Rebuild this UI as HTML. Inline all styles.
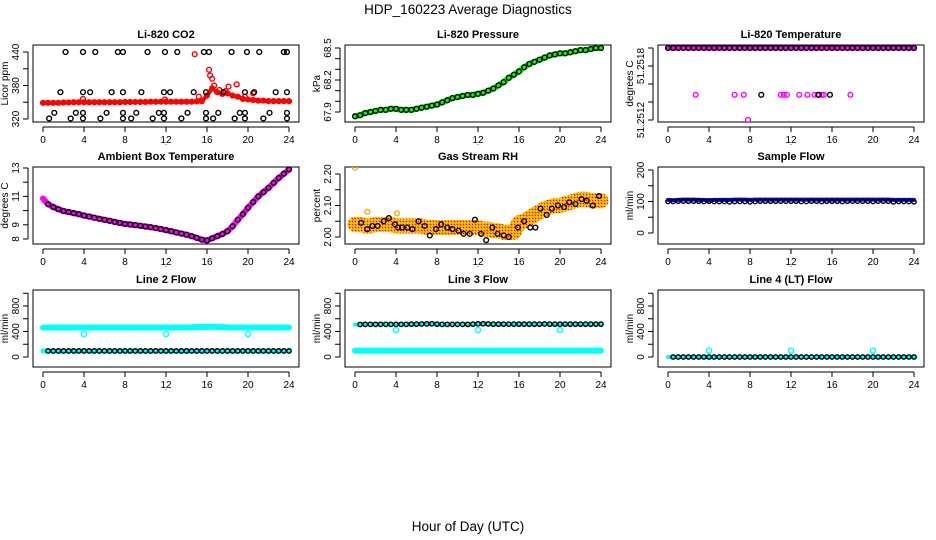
<!DOCTYPE html>
<html><head><meta charset="utf-8">
<style>
html,body{margin:0;padding:0;background:#fff;}
svg{display:block;font-family:"Liberation Sans",Arial,sans-serif;}
</style></head>
<body>
<svg id="chart" width="936" height="540" viewBox="0 0 936 540" xmlns="http://www.w3.org/2000/svg">
<defs>
<pattern id="rhpat" width="3" height="3" patternUnits="userSpaceOnUse">
<rect width="3" height="3" fill="#ff9a00"/><rect width="1" height="1" fill="#ffff00"/><rect x="2" y="1" width="1" height="1" fill="#ffee00"/><rect x="1" y="2" width="1" height="1" fill="#ff0000"/>
</pattern>
</defs>
<text x="468" y="14" font-size="13.5" text-anchor="middle">HDP_160223  Average Diagnostics</text>
<text x="468" y="531" font-size="13.5" text-anchor="middle">Hour of Day (UTC)</text>
</svg>
<script>
// ---- shared x categories ----
const halfHours = [0,0.5,1,1.5,2,2.5,3,3.5,4,4.5,5,5.5,6,6.5,7,7.5,8,8.5,9,9.5,10,10.5,11,11.5,12,12.5,13,13.5,14,14.5,15,15.5,16,16.5,17,17.5,18,18.5,19,19.5,20,20.5,21,21.5,22,22.5,23,23.5,24];
const xTicks = [0,4,8,12,16,20,24];

// ---- CO2 ----
const co2Red = [349,349,349,349,349.5,349.5,350,350,350,350,350,350,350,350,350,350,350.5,350.5,350.5,350.5,350.5,351,351,351,351,351,351,351,351,351,351.5,352,362,375,368,365,366,362,360,356,355,354,353,353,352,352,352,352,352];
const co2OutHours = [14.8,16.2,16.3,16.5,16.7,18.1,18.9,20.5,17.2,17.8,19.7,15.2,3.9,11.9];
const co2OutVals = [436,408,398,392,380,378,382,366,372,370,360,360,356,355];
const co2BlkHours = [2.2,3.9,5.1,7.3,7.8,10.2,11.9,13.1,15.7,16.2,18.4,19.9,21.1,23.5,23.8,
 1.7,3.9,4.6,6.7,7.8,9.6,11.8,12.4,14.7,15.9,17.6,19.7,20.6,22.7,23.8,
 1.1,3.2,3.9,6.2,7.8,9.1,11.3,11.8,14.1,15.9,17.1,19.2,19.7,22.1,23.8,
 0.6,2.7,3.9,5.6,7.8,8.6,10.7,11.8,13.5,15.9,16.6,18.7,19.7,21.5,23.8];
const co2BlkVals = [440,440,440,440,440,440,440,440,440,440,440,440,440,440,440,
 368,368,368,368,368,368,368,368,368,368,368,368,368,368,368,
 331,331,331,331,331,331,331,331,331,331,331,331,331,331,331,
 321,321,321,321,321,321,321,321,321,321,321,321,321,321,321];

// ---- Pressure ----
const presGreen = [67.86,67.87,67.89,67.9,67.91,67.92,67.92,67.93,67.93,67.92,67.92,67.92,67.93,67.94,67.95,67.96,67.97,67.99,68.01,68.03,68.04,68.05,68.06,68.06,68.07,68.08,68.1,68.12,68.15,68.18,68.22,68.25,68.28,68.32,68.35,68.37,68.39,68.41,68.43,68.44,68.45,68.45,68.46,68.47,68.48,68.48,68.49,68.5,68.5];

// ---- Li-820 temperature ----
const tempMag = [51.252,51.252,51.252,51.252,51.252,51.252,51.252,51.252,51.252,51.252,51.252,51.252,51.252,51.252,51.252,51.252,51.252,51.252,51.252,51.252,51.252,51.252,51.252,51.252,51.252,51.252,51.252,51.252,51.252,51.252,51.252,51.252,51.252,51.252,51.252,51.252,51.252,51.252,51.252,51.252,51.252,51.252,51.252,51.252,51.252,51.252,51.252,51.252,51.252];
const tempOutHours = [2.7,6.5,7.4,11.0,11.3,11.6,12.8,13.6,14.3,14.6,15.0,15.2,17.8,7.8];
const tempOutVals = [51.25148,51.25148,51.25148,51.25148,51.25148,51.25148,51.25148,51.25148,51.25148,51.25148,51.25148,51.25148,51.25148,51.2512];
const tempBlkHours = [9.1,14.7,15.8];
const tempBlkVals = [51.25148,51.25148,51.25148];

// ---- Ambient box temperature ----
const ambMag = [10.85,10.45,10.25,10.1,9.97,9.9,9.82,9.75,9.65,9.58,9.5,9.42,9.35,9.28,9.2,9.13,9.06,9.02,8.98,8.93,8.88,8.83,8.77,8.7,8.63,8.55,8.46,8.38,8.3,8.2,8.08,7.95,7.9,8.05,8.2,8.35,8.55,8.9,9.35,9.75,10.2,10.6,11.0,11.3,11.6,11.95,12.3,12.6,12.9];

// ---- Gas stream RH ----
const rhBand = [2.04,2.04,2.035,2.035,2.04,2.04,2.04,2.04,2.035,2.035,2.035,2.035,2.035,2.035,2.03,2.03,2.03,2.03,2.03,2.03,2.03,2.03,2.03,2.03,2.03,2.025,2.025,2.02,2.02,2.015,2.015,2.015,2.045,2.05,2.06,2.07,2.08,2.09,2.095,2.1,2.1,2.105,2.11,2.115,2.12,2.12,2.115,2.115,2.115];
const rhBlkHours = [0.6,1.2,1.7,2.2,2.8,3.3,3.9,4.2,4.6,5.1,5.6,6.2,6.8,7.3,7.9,8.4,9.0,9.5,10.1,10.6,11.2,11.7,12.3,12.8,13.4,13.9,14.5,15.0,15.9,16.5,17.1,17.6,18.1,18.7,19.2,19.8,20.4,20.9,21.5,22.1,22.6,23.2,23.8];
const rhBlkVals = [2.045,2.025,2.035,2.035,2.05,2.06,2.04,2.03,2.03,2.03,2.025,2.05,2.035,2.005,2.025,2.04,2.03,2.025,2.02,2.01,2.01,2.055,2.01,1.99,2.03,2.01,2.005,2.0,2.03,2.05,2.03,2.03,2.09,2.07,2.09,2.10,2.095,2.11,2.105,2.12,2.115,2.1,2.13];
const rhOutHours = [0,1.2,4.1];
const rhOutVals = [2.22,2.08,2.075];

// ---- Sample flow ----
const sampBlue = [105,104,105,106,106,106,105,105,104,105,105,105,105,106,106,106,105,106,106,106,106,106,106,106,106,106,106,106,106,106,106,106,106,106,106,106,106,106,106,106,106,106,106,106,105,105,105,105,105];
const sampBlack = [100,100,101,101,101,101,101,100,101,100,100,100,99,100,100,100,99,100,101,101,101,101,101,101,101,101,100,100,101,101,100,101,101,101,100,101,101,101,101,101,100,101,101,101,99,100,100,100,99];

// ---- Line flows ----
const line2Upper = [460,462,462,462,462,462,462,462,462,462,462,462,462,462,462,462,462,462,462,462,462,462,462,462,462,462,462,462,462,465,468,470,470,475,470,468,465,462,462,462,462,462,462,462,462,462,462,462,462];
const line2Lower = [95,95,95,95,95,95,95,95,95,95,95,95,95,95,95,95,95,95,95,95,95,95,95,95,95,95,95,95,95,95,95,95,95,95,95,95,95,95,95,95,95,95,95,95,95,95,95,95,95];
const line2OutHours = [4,12,20];
const line2OutVals = [360,360,360];
const line3Upper = [505,510,512,512,512,512,512,512,512,512,512,515,515,518,520,522,515,512,512,512,512,512,512,515,520,522,518,515,515,515,515,515,515,515,515,515,515,518,515,515,515,515,515,515,515,515,515,515,515];
const line3Lower = [100,100,100,100,100,100,100,100,100,100,100,100,100,100,100,100,100,100,100,100,100,100,100,100,100,100,100,100,100,100,100,100,100,100,100,100,100,100,100,100,100,100,100,100,100,100,100,100,100];
const line3OutHours = [4,12,20];
const line3OutVals = [423,423,423];
const line4Vals = [0,0,0,0,0,0,0,0,0,0,0,0,0,0,0,0,0,0,0,0,0,0,0,0,0,0,0,0,0,0,0,0,0,0,0,0,0,0,0,0,0,0,0,0,0,0,0,0,0];
const line4OutHours = [4,12,20];
const line4OutVals = [100,100,100];

// ---- layout ----
const svg = document.getElementById('chart');
const NS = 'http://www.w3.org/2000/svg';
const colX0 = [43, 355, 668];
const rowTop = [45, 167, 290];
const XW = 246, BH = 77;

function el(tag, attrs, parent){
  const e = document.createElementNS(NS, tag);
  for (const k in attrs) e.setAttribute(k, attrs[k]);
  (parent || svg).appendChild(e);
  return e;
}

function makePanel(col, row, title, ylab, vA, yA, vB, yB, ticks, labels){
  const g = el('g', {});
  
  
  const x0 = colX0[col], top = rowTop[row];
  const left = x0 - 10, right = x0 + 256, bottom = top + BH;
  const sx = h => x0 + h / 24 * XW;
  const sy = v => top + yA + (v - vA) / (vB - vA) * (yB - yA);
  const box = el('rect', {x:left, y:top, width:right-left, height:BH, fill:'none', stroke:'#000', 'stroke-width':1}, g);
  
  
  const t = el('text', {x:(left+right)/2, y:top-7, 'font-size':11, 'font-weight':'bold', 'text-anchor':'middle'}, g);
  t.textContent = title;
  
  
  const xa = el('g', {}, g);
  
  
  el('line', {x1:sx(xTicks[0]), x2:sx(xTicks[xTicks.length-1]), y1:bottom+5, y2:bottom+5, stroke:'#000'}, xa);
  xTicks.forEach(h => {
    el('line', {x1:sx(h), x2:sx(h), y1:bottom+5, y2:bottom+10, stroke:'#000'}, xa);
    const lt = el('text', {x:sx(h), y:bottom+21, 'font-size':10, 'text-anchor':'middle'}, xa);
    lt.textContent = h;
    
    
  });
  const ya = el('g', {}, g);
  
  
  el('line', {x1:left-5, x2:left-5, y1:sy(ticks[0]), y2:sy(ticks[ticks.length-1]), stroke:'#000'}, ya);
  ticks.forEach(v => el('line', {x1:left-10, x2:left-5, y1:sy(v), y2:sy(v), stroke:'#000'}, ya));
  labels.forEach(lb => {
    const yy = sy(parseFloat(lb));
    const lt = el('text', {x:left-14, y:yy, 'font-size':10, 'text-anchor':'middle', transform:'rotate(-90 '+(left-14)+' '+yy+')'}, ya);
    lt.textContent = lb;
    
    
  });
  const yl = el('text', {x:left-25, y:(top+bottom)/2, 'font-size':10, 'text-anchor':'middle', transform:'rotate(-90 '+(left-25)+' '+((top+bottom)/2)+')'}, g);
  yl.textContent = ylab;
  
  
  const dot = el('text', {x:(left+right)/2, y:bottom+23, 'font-size':8, 'text-anchor':'middle'}, g);
  dot.textContent = '.';
  
  
  const clip = 'clip' + col + row;
  const cp = el('clipPath', {id:clip}, g);
  el('rect', {x:left, y:top, width:right-left, height:BH}, cp);
  const data = el('g', {'clip-path':'url(#'+clip+')'}, g);
  
  
  return {g:data, sx, sy};
}

function pts(P, hrs, vals, color, r, name){
  hrs.forEach((h, i) => {
    const c = el('circle', {cx:P.sx(h), cy:P.sy(vals[i]), r:r||2.4, fill:'none', stroke:color, 'stroke-width':1.4}, P.g);
    
    
  });
}
function band(P, hrs, vals, color, w, name){
  const p = el('polyline', {points:hrs.map((h,i)=>P.sx(h)+','+P.sy(vals[i])).join(' '), fill:'none', stroke:color, 'stroke-width':w, 'stroke-linejoin':'round', 'stroke-linecap':'round'}, P.g);
  
  
}

// CO2
let P = makePanel(0,0,'Li-820 CO2','Licor ppm',440,7,320,74,[320,350,380,410,440],['320','380','440']);
band(P, halfHours, co2Red, '#ff0000', 4, 'co2-series-band');
pts(P, halfHours, co2Red, '#ff0000', 2.4, 'co2-point');
pts(P, co2OutHours, co2OutVals, '#ff0000', 2.4, 'co2-outlier');
pts(P, co2BlkHours, co2BlkVals, '#000', 2.4, 'co2-black-point');

// Pressure
P = makePanel(1,0,'Li-820 Pressure','kPa',68.5,3,67.9,67,[67.9,68.0,68.1,68.2,68.3,68.4,68.5],['67.9','68.2','68.5']);
band(P, halfHours, presGreen, '#00ff00', 6, 'pressure-band');
pts(P, halfHours, presGreen, '#000', 2.4, 'pressure-point');

// Li-820 temperature
P = makePanel(2,0,'Li-820 Temperature','degrees C',51.2518,21,51.2512,75,[51.2512,51.2514,51.2516,51.2518,51.252],['51.2512','51.2518']);
band(P, halfHours, tempMag, '#ff00ff', 5, 'temperature-band');
pts(P, halfHours, tempMag, '#000', 2.4, 'temperature-point');
pts(P, tempOutHours, tempOutVals, '#ff00ff', 2.4, 'temperature-outlier');
pts(P, tempBlkHours, tempBlkVals, '#000', 2.4, 'temperature-black-outlier');

// Ambient box temp
P = makePanel(0,1,'Ambient Box Temperature','degrees C',13,1,8,72,[8,9,10,11,12,13],['8','9','11','13']);
band(P, halfHours, ambMag, '#ff00ff', 6, 'ambient-band');
pts(P, halfHours.slice(1), ambMag.slice(1), '#000', 2.4, 'ambient-point');

// RH
P = makePanel(1,1,'Gas Stream RH','percent',2.2,7,2.0,70,[2.0,2.05,2.1,2.15,2.2],['2.00','2.10','2.20']);
band(P, halfHours, rhBand, 'url(#rhpat)', 15, 'rh-band');
pts(P, rhOutHours, rhOutVals, '#ffa500', 2.4, 'rh-outlier');
pts(P, rhBlkHours, rhBlkVals, '#000', 2.4, 'rh-point');

// Sample flow
P = makePanel(2,1,'Sample Flow','ml/min',200,3,0,66,[0,50,100,150,200],['0','100','200']);
band(P, halfHours, sampBlue, '#0000ff', 4, 'sample-flow-band');
pts(P, halfHours, sampBlack, '#000', 2.2, 'sample-flow-point');

// Line 2
P = makePanel(0,2,'Line 2 Flow','ml/min',800,16,0,67,[0,200,400,600,800,1000],['0','400','800']);
band(P, halfHours, line2Upper, '#00ffff', 6, 'line2-upper-band');
band(P, halfHours, line2Lower, '#00ffff', 5, 'line2-lower-band');
pts(P, halfHours.slice(1), line2Lower.slice(1), '#000', 2.2, 'line2-point');
pts(P, line2OutHours, line2OutVals, '#00ffff', 2.6, 'line2-outlier');

// Line 3
P = makePanel(1,2,'Line 3 Flow','ml/min',800,16,0,67,[0,200,400,600,800,1000],['0','400','800']);
band(P, halfHours, line3Upper, '#00ffff', 4, 'line3-upper-band');
pts(P, halfHours.slice(1), line3Upper.slice(1), '#000', 2.2, 'line3-point');
band(P, halfHours, line3Lower, '#00ffff', 6, 'line3-lower-band');
pts(P, line3OutHours, line3OutVals, '#00ffff', 2.6, 'line3-outlier');

// Line 4
P = makePanel(2,2,'Line 4 (LT) Flow','ml/min',800,16,0,67,[0,200,400,600,800,1000],['0','400','800']);
band(P, halfHours, line4Vals, '#00ffff', 4, 'line4-band');
pts(P, halfHours.slice(1), line4Vals.slice(1), '#000', 2.2, 'line4-point');
pts(P, line4OutHours, line4OutVals, '#00ffff', 2.6, 'line4-outlier');
</script>
</body></html>
